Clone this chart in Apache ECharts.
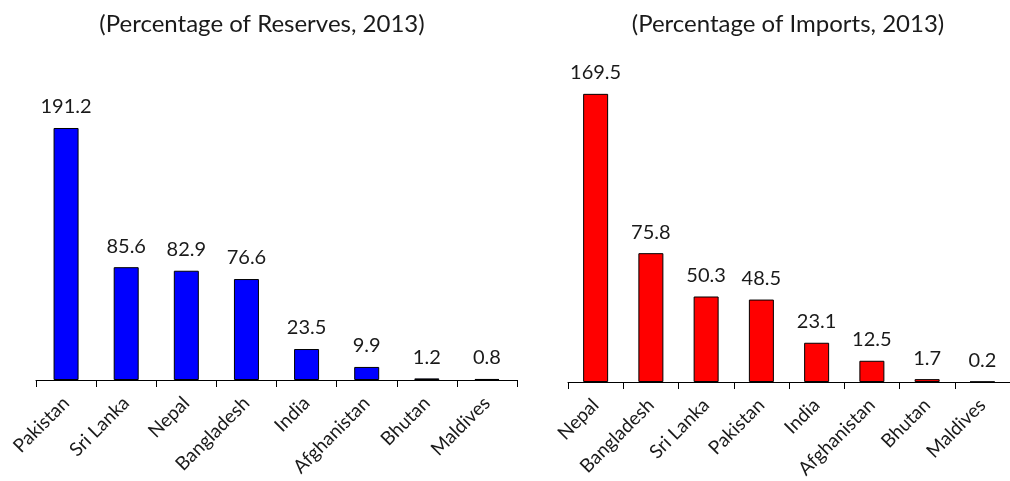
<!DOCTYPE html>
<html><head><meta charset="utf-8">
<script src="https://cdn.jsdelivr.net/npm/echarts@6/dist/echarts.min.js"></script>
<style>html,body{margin:0;padding:0;background:#fff}#c{width:1010px;height:481px}</style>
</head><body><div id="c"></div>
<script>
const reservesCategories = ['Pakistan','Sri Lanka','Nepal','Bangladesh','India','Afghanistan','Bhutan','Maldives'];
const reservesValues = [191.2, 85.6, 82.9, 76.6, 23.5, 9.9, 1.2, 0.8];
const importsCategories = ['Nepal','Bangladesh','Sri Lanka','Pakistan','India','Afghanistan','Bhutan','Maldives'];
const importsValues = [169.5, 75.8, 50.3, 48.5, 23.1, 12.5, 1.7, 0.2];
const titles = ['(Percentage of Reserves, 2013)', '(Percentage of Imports, 2013)'];

const FONT = 'Lato';
const chart = echarts.init(document.getElementById('c'), null, {renderer:'canvas'});
function xAxis(idx, cats){
  return {
    type:'category', gridIndex:idx, data:cats, boundaryGap:true,
    axisLine:{show:true, lineStyle:{color:'#000', width:1}},
    axisTick:{show:true, interval:0, alignWithLabel:false, length:7, lineStyle:{color:'#000', width:1}},
    axisLabel:{rotate:45, color:'#1a1a1a', fontSize:19, fontFamily:FONT, margin:20, interval:0}
  };
}
function yAxis(idx, max){
  return {type:'value', gridIndex:idx, min:0, max:max, show:false, splitLine:{show:false}};
}
function series(idx, vals, color){
  return {
    type:'bar', xAxisIndex:idx, yAxisIndex:idx, data:vals, barWidth:25,
    itemStyle:{color:color, borderColor:'#000', borderWidth:1},
    label:{show:true, position:'top', distance:11, color:'#1a1a1a', fontSize:20, fontFamily:FONT},
    silent:true
  };
}
chart.setOption({
  animation:false,
  title:[
    {text:titles[0], left:257, top:7, textAlign:'center', textStyle:{fontFamily:FONT, fontSize:24, fontWeight:'normal', color:'#1a1a1a'}},
    {text:titles[1], left:783, top:7, textAlign:'center', textStyle:{fontFamily:FONT, fontSize:24, fontWeight:'normal', color:'#1a1a1a'}}
  ],
  grid:[
    {left:36, width:481, top:50.5, height:329.5, containLabel:false},
    {left:568, width:450, top:76, height:308, containLabel:false}
  ],
  xAxis:[xAxis(0, reservesCategories), xAxis(1, importsCategories)],
  yAxis:[yAxis(0, 250), yAxis(1, 180)],
  series:[series(0, reservesValues, '#0000ff'), series(1, importsValues, '#ff0000')]
});
</script></body></html>
